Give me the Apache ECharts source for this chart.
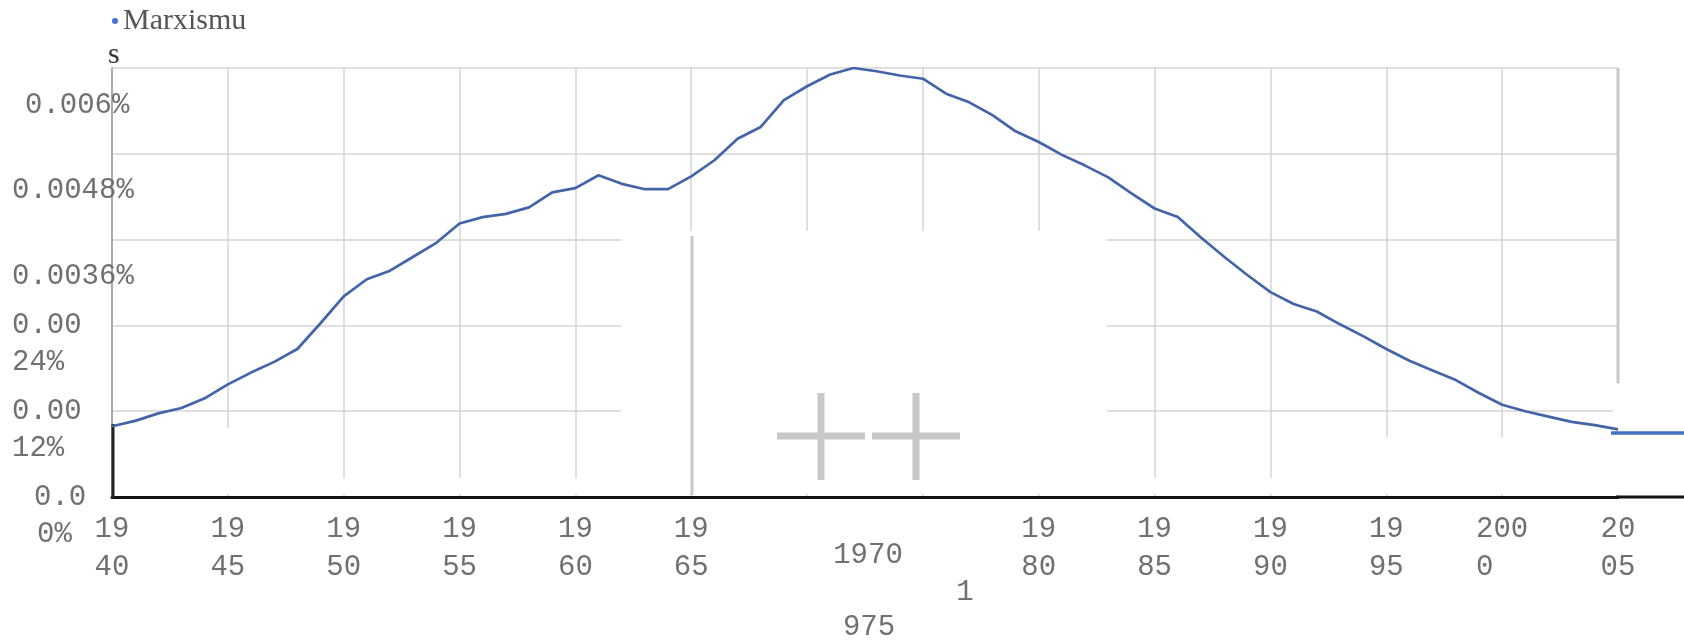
<!DOCTYPE html>
<html>
<head>
<meta charset="utf-8">
<script src="https://cdn.jsdelivr.net/npm/echarts@6/dist/echarts.min.js"></script>
<style>
html,body{margin:0;padding:0;background:#fff;}
#chart{width:1684px;height:644px;}
</style>
</head>
<body>
<div id="chart"></div>
<script>
// Marxismus - Anteil in Prozent
var seriesName = 'Marxismus';
var years = [1940,1941,1942,1943,1944,1945,1946,1947,1948,1949,
	1950,1951,1952,1953,1954,1955,1956,1957,1958,1959,
	1960,1961,1962,1963,1964,1965,1966,1967,1968,1969,
	1970,1971,1972,1973,1974,1975,1976,1977,1978,1979,
	1980,1981,1982,1983,1984,1985,1986,1987,1988,1989,
	1990,1991,1992,1993,1994,1995,1996,1997,1998,1999,
	2000,2001,2002,2003,2004,2005];
var values = [0.00099,0.001065,0.00117,0.001245,0.00138,0.001575,0.00174,0.00189,0.00207,0.00243,
	0.002805,0.003045,0.003165,0.00336,0.003555,0.003825,0.003915,0.00396,0.00405,0.00426,
	0.00432,0.0045,0.00438,0.004305,0.004305,0.004485,0.00471,0.00501,0.005175,0.00555,
	0.005745,0.00591,0.006,0.005955,0.005895,0.00585,0.00564,0.00552,0.00534,0.005115,
	0.004965,0.004785,0.004635,0.00447,0.004245,0.004035,0.003915,0.00363,0.00336,0.003105,
	0.002865,0.0027,0.002595,0.002415,0.00225,0.00207,0.001905,0.00177,0.001635,0.001455,
	0.00129,0.0012,0.001125,0.00105,0.001005,0.000945];
// tick labels, as broken in the picture
var yLabels = ['0.0\n0%','0.00\n12%','0.00\n24%','0.0036%','0.0048%','0.006%'];
var xLabels = ['19\n40','19\n45','19\n50','19\n55','19\n60','19\n65','','','19\n80','19\n85','19\n90','19\n95','200\n0','20\n05'];
var strayLabels = ['1970','1','975'];

var monoFont = 'Liberation Mono';
var labelColor = '#707070';

// a few y labels sit a little further right in the picture
var yIndent = {'0.0': 22, '0%': 25, '0.006%': 13};

var chart = echarts.init(document.getElementById('chart'));
var lineData = [];
for (var i = 0; i < years.length; i++) {
	lineData.push([years[i], values[i]]);
}

function yRich(){
	var r = {n: {fontFamily: monoFont, fontSize: 29, lineHeight: 37, color: labelColor, align: 'left'}};
	var k = 0;
	for (var key in yIndent) {
		r['i' + k] = {fontFamily: monoFont, fontSize: 29, lineHeight: 37, color: labelColor, align: 'left', padding: [0, 0, 0, yIndent[key]]};
		k++;
	}
	return r;
}
var indentKeys = Object.keys(yIndent);

var option = {
	animation: false,
	title: {
		text: 's',
		left: 108,
		top: 40,
		padding: 0,
		textStyle: {fontFamily: 'Liberation Serif', fontSize: 30, fontWeight: 'normal', color: '#333'}
	},
	legend: {
		left: 112,
		top: 6,
		padding: 0,
		icon: 'circle',
		itemWidth: 6,
		itemHeight: 6,
		itemStyle: {color: '#4a6fd8'},
		formatter: function(name){ return 'Marxismu'; },
		textStyle: {fontFamily: 'Liberation Serif', fontSize: 30, color: '#555'},
		data: [seriesName]
	},
	// second grid is only there to hang the y labels a bit lower
	grid: [
		{left: 112, right: 66, top: 68, bottom: 147},
		{left: 112, right: 66, top: 86.5, bottom: 128.5}
	],
	xAxis: [{
		type: 'value',
		min: 1940,
		max: 2005,
		interval: 5,
		axisTick: {show: false},
		axisLine: {lineStyle: {color: '#111', width: 3}},
		splitLine: {show: true, lineStyle: {color: '#d4d4d4', width: 1.5}},
		axisLabel: {
			margin: 13,
			showMinLabel: true,
			showMaxLabel: true,
			formatter: function(v){
				var s = xLabels[Math.round((v - 1940) / 5)];
				if (!s) return '';
				return s.split('\n').map(function(t){ return '{a|' + t + '}'; }).join('\n');
			},
			rich: {
				a: {align: 'left', fontFamily: monoFont, fontSize: 29, lineHeight: 38, color: labelColor}
			}
		}
	}, {
		gridIndex: 1,
		type: 'value',
		min: 1940,
		max: 2005,
		show: false
	}],
	yAxis: [{
		type: 'value',
		min: 0,
		max: 0.006,
		interval: 0.0012,
		axisTick: {show: false},
		axisLine: {show: true, lineStyle: {color: '#9a9a9a', width: 1.5}},
		splitLine: {show: true, lineStyle: {color: '#d4d4d4', width: 1.5}},
		axisLabel: {show: false}
	}, {
		gridIndex: 1,
		type: 'value',
		min: 0,
		max: 0.006,
		interval: 0.0012,
		axisTick: {show: false},
		axisLine: {show: false},
		splitLine: {show: false},
		axisLabel: {
			align: 'left',
			margin: 100,
			showMinLabel: true,
			showMaxLabel: true,
			fontFamily: monoFont,
			fontSize: 29,
			lineHeight: 37,
			color: labelColor,
			formatter: function(v){
				var s = yLabels[Math.round(v / 0.0012)];
				var lines = s.split('\n').map(function(t){
					var k = indentKeys.indexOf(t);
					return (k >= 0 ? '{i' + k + '|' : '{n|') + t + '}';
				});
				if (lines.length == 1) lines.unshift('{n| }');
				return lines.join('\n');
			},
			rich: yRich()
		}
	}],
	series: [{
		name: seriesName,
		type: 'line',
		data: lineData,
		showSymbol: false,
		z: 3,
		lineStyle: {color: '#4464a8', width: 2.7},
		itemStyle: {color: '#4464a8'}
	}]
};
chart.setOption(option);

// the odd white patches, crosses and stray bits of the picture
var gray = '#c8c8c8';
var decor = [
	{type: 'rect', z: 1, shape: {x: 621, y: 231, width: 486, height: 263}, style: {fill: '#fff'}},
	{type: 'rect', z: 1, shape: {x: 115, y: 478, width: 1510, height: 16}, style: {fill: '#fff'}},
	{type: 'rect', z: 1, shape: {x: 223, y: 428, width: 9, height: 50}, style: {fill: '#fff'}},
	{type: 'rect', z: 1, shape: {x: 1382, y: 437, width: 9, height: 41}, style: {fill: '#fff'}},
	{type: 'rect', z: 1, shape: {x: 1498, y: 437, width: 9, height: 41}, style: {fill: '#fff'}},
	{type: 'rect', z: 1, shape: {x: 1613, y: 384, width: 10, height: 110}, style: {fill: '#fff'}},
	{type: 'line', z: 1.5, shape: {x1: 1618, y1: 68, x2: 1618, y2: 383}, style: {stroke: gray, lineWidth: 3}},
	{type: 'line', z: 1.5, shape: {x1: 692, y1: 236, x2: 692, y2: 495}, style: {stroke: gray, lineWidth: 3}},
	{type: 'rect', z: 1.5, shape: {x: 777, y: 432.5, width: 88, height: 7}, style: {fill: gray}},
	{type: 'rect', z: 1.5, shape: {x: 817.5, y: 393, width: 7, height: 87}, style: {fill: gray}},
	{type: 'rect', z: 1.5, shape: {x: 872, y: 432.5, width: 88, height: 7}, style: {fill: gray}},
	{type: 'rect', z: 1.5, shape: {x: 912.5, y: 393, width: 7, height: 87}, style: {fill: gray}},
	{type: 'line', z: 1.5, shape: {x1: 113, y1: 424, x2: 113, y2: 498}, style: {stroke: '#222', lineWidth: 3}},
	{type: 'line', z: 1.5, shape: {x1: 1616, y1: 497, x2: 1684, y2: 497}, style: {stroke: '#111', lineWidth: 3}},
	{type: 'line', z: 4, shape: {x1: 1611, y1: 433, x2: 1684, y2: 433}, style: {stroke: '#4472c4', lineWidth: 3.5}},
	{type: 'text', z: 2, x: 868, y: 555, style: {text: strayLabels[0], fill: labelColor, font: '29px "' + monoFont + '"', align: 'center', verticalAlign: 'middle'}},
	{type: 'text', z: 2, x: 965, y: 592, style: {text: strayLabels[1], fill: labelColor, font: '29px "' + monoFont + '"', align: 'center', verticalAlign: 'middle'}},
	{type: 'text', z: 2, x: 869, y: 627, style: {text: strayLabels[2], fill: labelColor, font: '29px "' + monoFont + '"', align: 'center', verticalAlign: 'middle'}}
];
chart.setOption({graphic: {elements: decor}});
</script>
</body>
</html>
